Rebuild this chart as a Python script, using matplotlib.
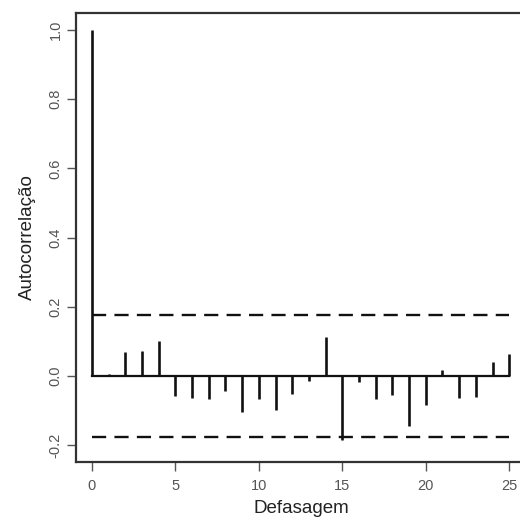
import matplotlib
matplotlib.use("Agg")
import matplotlib.pyplot as plt

plt.rcParams['font.family'] = ['Liberation Sans', 'DejaVu Sans']

# ACF values
lags = list(range(0, 26))
acf = [1.0, 0.005, 0.068, 0.071, 0.100, -0.058, -0.063, -0.066, -0.045, -0.104,
       -0.066, -0.099, -0.053, -0.014, 0.111, -0.186, -0.017, -0.066, -0.056,
       -0.145, -0.085, 0.017, -0.063, -0.060, 0.039, 0.063]
conf = 0.177

xticks = [0, 5, 10, 15, 20, 25]
yticks = [-0.2, 0.0, 0.2, 0.4, 0.6, 0.8, 1.0]

fig = plt.figure(figsize=(5.2, 5.27), dpi=100)
ax = fig.add_axes([0.146, 0.1233, 0.8654, 0.852])

ax.vlines(lags, 0, acf, color='#111111', linewidth=1.9)
ax.plot([lags[0], lags[-1]], [0, 0], color='#111111', linewidth=1.6)
for c in (conf, -conf):
    ax.plot([lags[0], lags[-1]], [c, c], color='#111111', linewidth=1.7,
            dashes=(6, 3.5))

ax.set_xlim(-0.96, 26)
ax.set_ylim(-0.249, 1.049)

ax.set_xticks(xticks)
ax.set_xticklabels([str(t) for t in xticks])
ax.set_yticks(yticks)
ax.set_yticklabels([f"{t:.1f}" for t in yticks], rotation=90, va='center')

ax.tick_params(axis='both', direction='out', length=6.5, width=1.0,
               color='#555555', labelcolor='#555555', labelsize=10.5)
ax.tick_params(axis='x', pad=6)
ax.tick_params(axis='y', pad=3)

for s in ax.spines.values():
    s.set_linewidth(1.6)
    s.set_color('#333333')

ax.set_xlabel('Defasagem', fontsize=13.5, color='#222222', labelpad=5)
ax.set_ylabel('Autocorrelação', fontsize=13.5, color='#222222', labelpad=9)

fig.savefig('out.png', dpi=100)
